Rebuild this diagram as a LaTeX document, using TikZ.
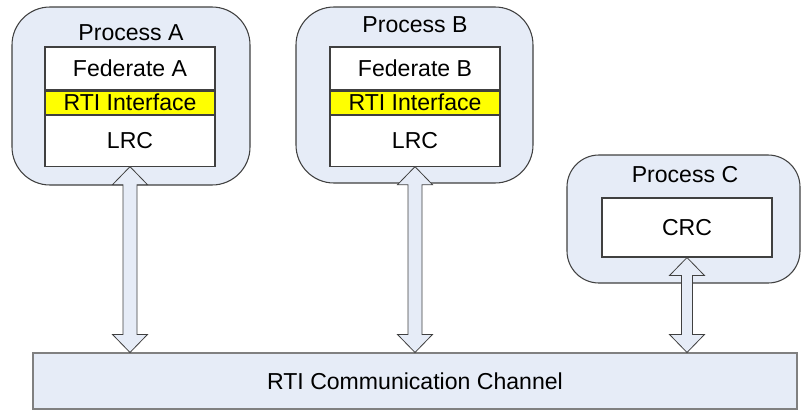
\documentclass[tikz,border=0pt]{standalone}
\usepackage{fontspec}
\setmainfont{Liberation Sans}
\usepackage{tikz}
\usetikzlibrary{positioning}

\definecolor{procblue}{RGB}{230,236,247}
\definecolor{edgegray}{RGB}{64,64,64}
\definecolor{rtiyellow}{RGB}{255,255,0}

\tikzset{
  procbox/.style={draw=edgegray, fill=procblue, line width=0.8pt, rounded corners=28.5pt, inner sep=0pt},
  layerbox/.style={draw=edgegray, fill=white, line width=0.8pt, minimum width=127.5pt, inner sep=0pt},
  chanbox/.style={draw=gray, fill=procblue, line width=0.8pt, inner sep=0pt},
  linkarrow/.style={draw=edgegray, fill=procblue, line width=0.6pt, line join=miter},
}

% double block arrow from #1 (top tip) to #2 (bottom tip), half shaft #3
\newcommand{\linkarrow}[3]{%
  \draw[linkarrow] (#1) -- ++(-17.5,18) -- ++(17.5-#3,0) -- ($(#2)+(-#3,-18)$)
    -- ++(#3-17.5,0) -- (#2) -- ++(17.5,-18) -- ++(#3-17.5,0) -- ($(#1)+(#3,18)$)
    -- ++(17.5-#3,0) -- cycle;}

\usetikzlibrary{calc}

\begin{document}
\begin{tikzpicture}[x=0.75pt, y=-0.75pt, font=\fontsize{17.3}{20}\selectfont]
	\useasboundingbox (0,0) rectangle (801,411);

	% processes
	\node[procbox, minimum width=178.5pt, minimum height=133.5pt] (procA) at (131,96) {};
	\node[procbox, minimum width=177.75pt, minimum height=132pt] (procB) at (414.5,95) {};
	\node[procbox, rounded corners=24pt, minimum width=174.75pt, minimum height=96pt] (procC) at (683.5,219) {};
	\node (labA) at (131,33) {Process A};
	\node (labB) at (415,25) {Process B};
	\node (labC) at (685,175) {Process C};

	% federate stacks
	\node[layerbox, minimum height=32.25pt] (fedA) at (130,68.5) {Federate A};
	\node[layerbox, fill=rtiyellow, minimum height=17.25pt, below=0pt of fedA] (rtiA) {RTI Interface};
	\node[layerbox, minimum height=38.25pt, below=0pt of rtiA] (lrcA) {LRC};

	\node[layerbox, minimum height=32.25pt] (fedB) at (415,68.5) {Federate B};
	\node[layerbox, fill=rtiyellow, minimum height=17.25pt, below=0pt of fedB] (rtiB) {RTI Interface};
	\node[layerbox, minimum height=38.25pt, below=0pt of rtiB] (lrcB) {LRC};

	\node[layerbox, minimum height=44.25pt] (crc) at (687,227.5) {CRC};

	% channel
	\node[chanbox, minimum width=573pt, minimum height=42pt] (chan) at (415,381) {RTI Communication Channel};

	% links
	\linkarrow{lrcA.south}{lrcA.south |- chan.north}{7}
	\linkarrow{lrcB.south}{lrcB.south |- chan.north}{7}
	\linkarrow{crc.south}{crc.south |- chan.north}{5.5}
\end{tikzpicture}
\end{document}
